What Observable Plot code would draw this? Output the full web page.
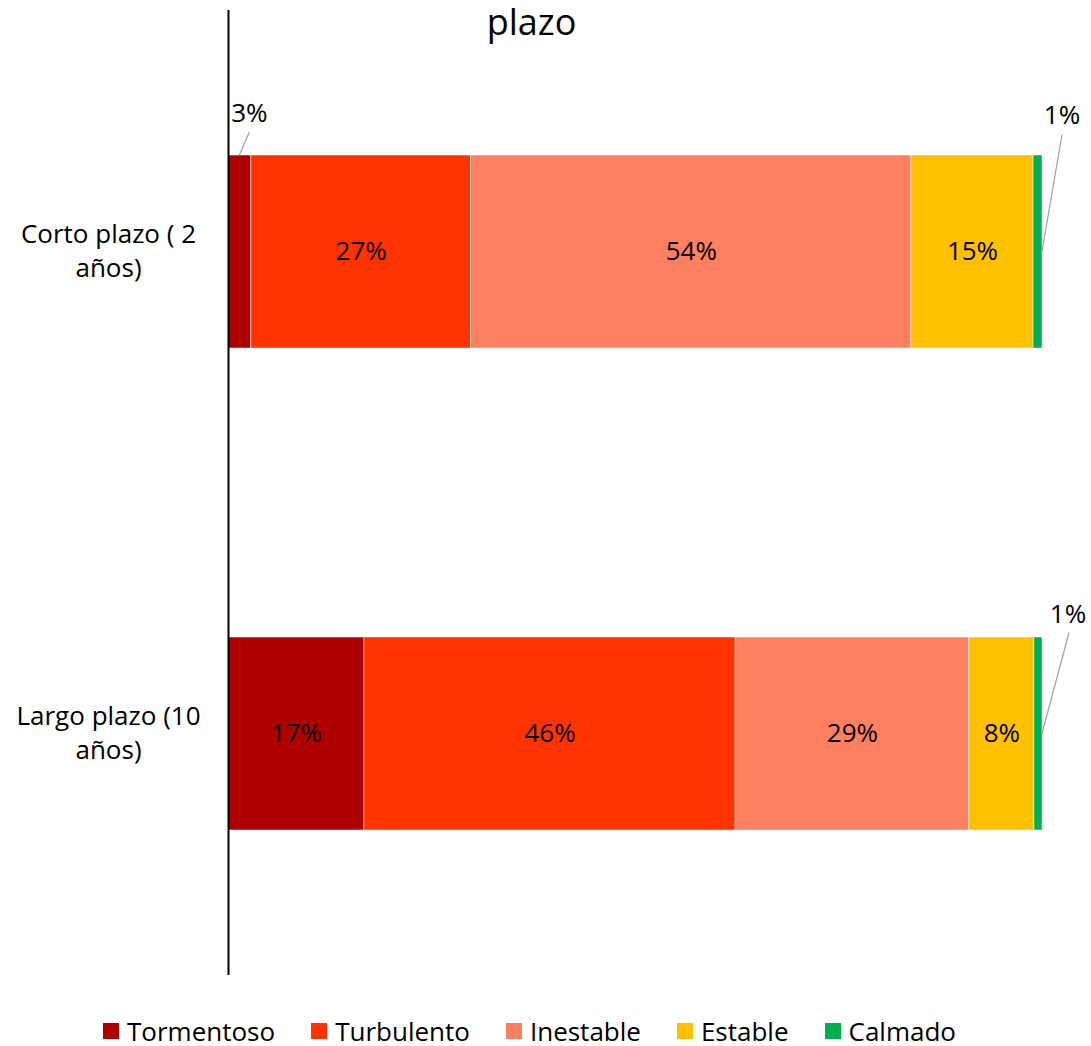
<!DOCTYPE html>
<html>
<head>
<meta charset="utf-8">
<script src="https://cdn.jsdelivr.net/npm/d3@7"></script>
<script src="https://cdn.jsdelivr.net/npm/@observablehq/plot@0.6"></script>
<style>
  html, body { margin: 0; padding: 0; background: #fff; }
  body { width: 1091px; height: 1046px; overflow: hidden; font-family: "Open Sans", "Noto Sans", sans-serif; }
  #chart svg { display: block; }
  #legend { display: flex; justify-content: center; align-items: center; gap: 36px; padding-right: 32px; margin-top: 18px; font-size: 26px; line-height: 26px; color: #000; }
  #legend .item { display: flex; align-items: center; gap: 8px; }
  #legend .sw { width: 16px; height: 16px; display: inline-block; }
</style>
</head>
<body>
<div id="chart"></div>
<div id="legend"></div>
<script>
const categories = ["Corto plazo ( 2 años)", "Largo plazo (10 años)"];
const categoryLabels = ["Corto plazo ( 2\naños)", "Largo plazo (10\naños)"];
const series = ["Tormentoso", "Turbulento", "Inestable", "Estable", "Calmado"];
const colors = ["#AF0000", "#FF3300", "#FF8060", "#FFC000", "#00B050"];
const cortoValues = [2.8, 27.0, 54.1, 15.0, 1.1];
const largoValues = [16.7, 45.6, 28.7, 8.0, 1.0];
const cortoLabels = ["3%", "27%", "54%", "15%", "1%"];
const largoLabels = ["17%", "46%", "29%", "8%", "1%"];
const titleText = "plazo";

const data = [];
categories.forEach((c, ci) => {
  const vals = ci === 0 ? cortoValues : largoValues;
  const labs = ci === 0 ? cortoLabels : largoLabels;
  series.forEach((s, si) => data.push({cat: c, series: s, value: vals[si], label: labs[si], order: si}));
});

const withPos = [];
categories.forEach(c => {
  let acc = 0;
  data.filter(d => d.cat === c).forEach(d => {
    withPos.push({...d, x0: acc, x1: acc + d.value, mid: acc + d.value / 2});
    acc += d.value;
  });
});
const inside = withPos.filter(d => d.value >= 5);
const outside = [
  {d: withPos.find(d => d.cat === categories[0] && d.series === "Tormentoso"), ax: "mid", ay: "top", tdx: 10, tdy: -43, ldx: 10, ldy: -23},
  {d: withPos.find(d => d.cat === categories[0] && d.series === "Calmado"), ax: "end", ay: "center", tdx: 20, tdy: -138, ldx: 20, ldy: -117},
  {d: withPos.find(d => d.cat === categories[1] && d.series === "Calmado"), ax: "end", ay: "center", tdx: 26, tdy: -121, ldx: 27, ldy: -101}
];

function leaderMark(index, scales, values, dimensions) {
  const g = d3.create("svg:g");
  const bw = scales.y.bandwidth ? scales.y.bandwidth() : 0;
  outside.forEach(o => {
    const xv = o.ax === "mid" ? o.d.mid : o.d.x1;
    const px = scales.x(xv);
    const yTop = scales.y(o.d.cat);
    const py = o.ay === "top" ? yTop : yTop + bw / 2;
    g.append("line")
      .attr("x1", px + o.ldx).attr("y1", py + o.ldy)
      .attr("x2", px).attr("y2", py)
      .attr("stroke", "#A6A6A6").attr("stroke-width", 1.3);
    g.append("text")
      .attr("x", px + o.tdx).attr("y", py + o.tdy)
      .attr("text-anchor", "middle").attr("dominant-baseline", "central")
      .attr("font-size", 26).attr("fill", "#000")
      .text(o.d.label);
  });
  return g.node();
}

const plot = Plot.plot({
  width: 1091,
  height: 1000,
  marginTop: 10,
  marginBottom: 25,
  marginLeft: 228,
  marginRight: 49,
  style: {fontFamily: "'Open Sans', 'Noto Sans', sans-serif", fontSize: "26px", background: "#fff", overflow: "visible"},
  x: {domain: [0, 100], axis: null},
  y: {domain: categories, paddingInner: 0.6, paddingOuter: 0.3, align: 0.5, axis: null},
  color: {domain: series, range: colors},
  marks: [
    Plot.barX(data, Plot.stackX({x: "value", y: "cat", fill: "series", order: "order", stroke: "#fff", strokeWidth: 0.8, strokeOpacity: 0.6})),
    Plot.text(inside, {x: "mid", y: "cat", text: "label", fill: "#000", fontSize: 26}),
    Plot.text(categories, {y: d => d, frameAnchor: "left", dx: -120, dy: -3, textAnchor: "middle", text: (d, i) => categoryLabels[i], fontSize: 26, lineHeight: 1.29, fill: "#000"}),
    Plot.ruleX([0], {stroke: "#000", strokeWidth: 2}),
    Plot.text([titleText], {frameAnchor: "top", dx: -104, dy: -1, fontSize: 36, fill: "#000"}),
    leaderMark
  ]
});
document.getElementById("chart").appendChild(plot);

const legend = d3.select("#legend");
series.forEach((s, i) => {
  const it = legend.append("div").attr("class", "item");
  it.append("span").attr("class", "sw").style("background", colors[i]);
  it.append("span").text(s);
});
</script>
</body>
</html>
